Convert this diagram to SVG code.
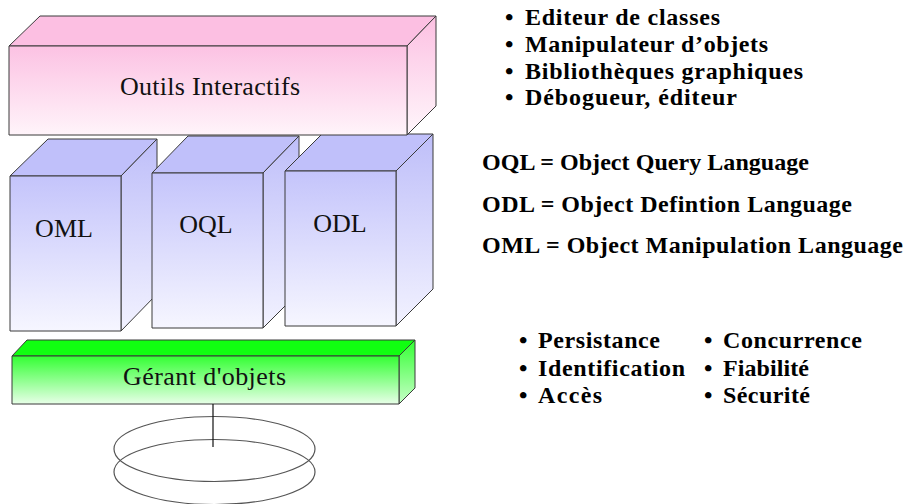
<svg xmlns="http://www.w3.org/2000/svg" width="907" height="504" viewBox="0 0 907 504">
  <defs>
    <linearGradient id="blueFront" x1="0" y1="0" x2="0" y2="1">
      <stop offset="0" stop-color="#c4c4fb"/>
      <stop offset="1" stop-color="#f6f6ff"/>
    </linearGradient>
    <linearGradient id="blueSide" x1="0" y1="0" x2="0" y2="1">
      <stop offset="0" stop-color="#bebef9"/>
      <stop offset="1" stop-color="#f2f2ff"/>
    </linearGradient>
    <linearGradient id="pinkFront" x1="0" y1="0" x2="0" y2="1">
      <stop offset="0" stop-color="#fcc2e3"/>
      <stop offset="1" stop-color="#fff4fa"/>
    </linearGradient>
    <linearGradient id="pinkSide" x1="0" y1="0" x2="0" y2="1">
      <stop offset="0" stop-color="#fcc0e2"/>
      <stop offset="1" stop-color="#fff6fb"/>
    </linearGradient>
    <linearGradient id="greenFront" x1="0" y1="0" x2="0" y2="1">
      <stop offset="0" stop-color="#33ff33"/>
      <stop offset="1" stop-color="#e8ffe8"/>
    </linearGradient>
    <linearGradient id="greenSide" x1="0" y1="0" x2="0" y2="1">
      <stop offset="0" stop-color="#33ff33"/>
      <stop offset="1" stop-color="#c8ffc8"/>
    </linearGradient>
  </defs>
  <style>
    .edge { stroke: #3a3a3a; stroke-width: 1; stroke-linejoin: round; }
    .label { font-family: "Liberation Serif", "Times New Roman", serif; font-size: 26px; fill: #111; text-anchor: middle; }
    .nt { font-family: "Liberation Serif", "Times New Roman", serif; font-size: 24px; font-weight: bold; fill: #000; }
    .ring { fill: none; stroke: #555; stroke-width: 1.2; }
  </style>

  <!-- language blocks (back to front) -->
  <g id="oml">
    <polygon class="edge" fill="#c0c0fa" points="10,176 48,139 157,139 121,176"/>
    <polygon class="edge" fill="url(#blueSide)" points="121,176 157,139 157,294 121,331"/>
    <rect class="edge" fill="url(#blueFront)" x="10" y="176" width="111" height="155"/>
    <text class="label" x="64" y="237">OML</text>
  </g>
  <g id="oql">
    <polygon class="edge" fill="#c0c0fa" points="152,173 188,136 299,136 263,173"/>
    <polygon class="edge" fill="url(#blueSide)" points="263,173 299,136 299,292 263,328"/>
    <rect class="edge" fill="url(#blueFront)" x="152" y="173" width="111" height="155"/>
    <text class="label" x="206" y="233">OQL</text>
  </g>
  <g id="odl">
    <polygon class="edge" fill="#c0c0fa" points="285,171 322,134 433,134 396,171"/>
    <polygon class="edge" fill="url(#blueSide)" points="396,171 433,134 433,289 396,326"/>
    <rect class="edge" fill="url(#blueFront)" x="285" y="171" width="111" height="155"/>
    <text class="label" x="340" y="232">ODL</text>
  </g>

  <!-- interactive tools slab -->
  <g id="outils">
    <polygon class="edge" fill="#fcbfe2" points="9,46 40,16 436,16 407,46"/>
    <polygon class="edge" fill="url(#pinkSide)" points="407,46 436,16 436,106 407,135"/>
    <rect class="edge" fill="url(#pinkFront)" x="9" y="46" width="398" height="89"/>
    <text class="label" x="210" y="95" textLength="180">Outils Interactifs</text>
  </g>

  <!-- object manager slab -->
  <g id="gerant">
    <polygon class="edge" fill="#11ff11" stroke="#666" points="12,356 27,340 415,340 399,356"/>
    <polygon class="edge" fill="url(#greenSide)" points="399,356 415,340 415,388 399,404"/>
    <rect class="edge" fill="url(#greenFront)" x="12" y="356" width="387" height="48"/>
    <text class="label" x="204.5" y="385" textLength="163">Gérant d'objets</text>
  </g>

  <!-- storage rings -->
  <g id="stockage">
    <ellipse class="ring" cx="214.5" cy="449" rx="100.5" ry="32.5"/>
    <ellipse class="ring" cx="214.5" cy="472" rx="100.5" ry="32.5"/>
  </g>

  <g id="connecteurs">
    <line x1="213" y1="404" x2="213" y2="447" stroke="#111" stroke-width="1.2"/>
  </g>

  <!-- tool list -->
  <g id="liste-outils">
    <text class="nt" y="25"><tspan x="505">•</tspan><tspan x="525" textLength="195">Editeur de classes</tspan></text>
    <text class="nt" y="52"><tspan x="505">•</tspan><tspan x="525" textLength="243">Manipulateur d’objets</tspan></text>
    <text class="nt" y="79"><tspan x="505">•</tspan><tspan x="525" textLength="278">Bibliothèques graphiques</tspan></text>
    <text class="nt" y="105"><tspan x="505">•</tspan><tspan x="525" textLength="212">Débogueur, éditeur</tspan></text>
  </g>

  <!-- acronyms -->
  <g id="acronymes">
    <text class="nt" x="482" y="170" textLength="327">OQL = Object Query Language</text>
    <text class="nt" x="482" y="212" textLength="370">ODL = Object Defintion Language</text>
    <text class="nt" x="482" y="253" textLength="421">OML = Object Manipulation Language</text>
  </g>

  <!-- manager services -->
  <g id="services">
    <text class="nt" y="348"><tspan x="519">•</tspan><tspan x="538" textLength="122">Persistance</tspan></text>
    <text class="nt" y="376"><tspan x="519">•</tspan><tspan x="538" textLength="147">Identification</tspan></text>
    <text class="nt" y="403"><tspan x="519">•</tspan><tspan x="538" textLength="64">Accès</tspan></text>
    <text class="nt" y="348"><tspan x="704">•</tspan><tspan x="723" textLength="139">Concurrence</tspan></text>
    <text class="nt" y="376"><tspan x="704">•</tspan><tspan x="723" textLength="86">Fiabilité</tspan></text>
    <text class="nt" y="403"><tspan x="704">•</tspan><tspan x="723" textLength="87">Sécurité</tspan></text>
  </g>
</svg>
